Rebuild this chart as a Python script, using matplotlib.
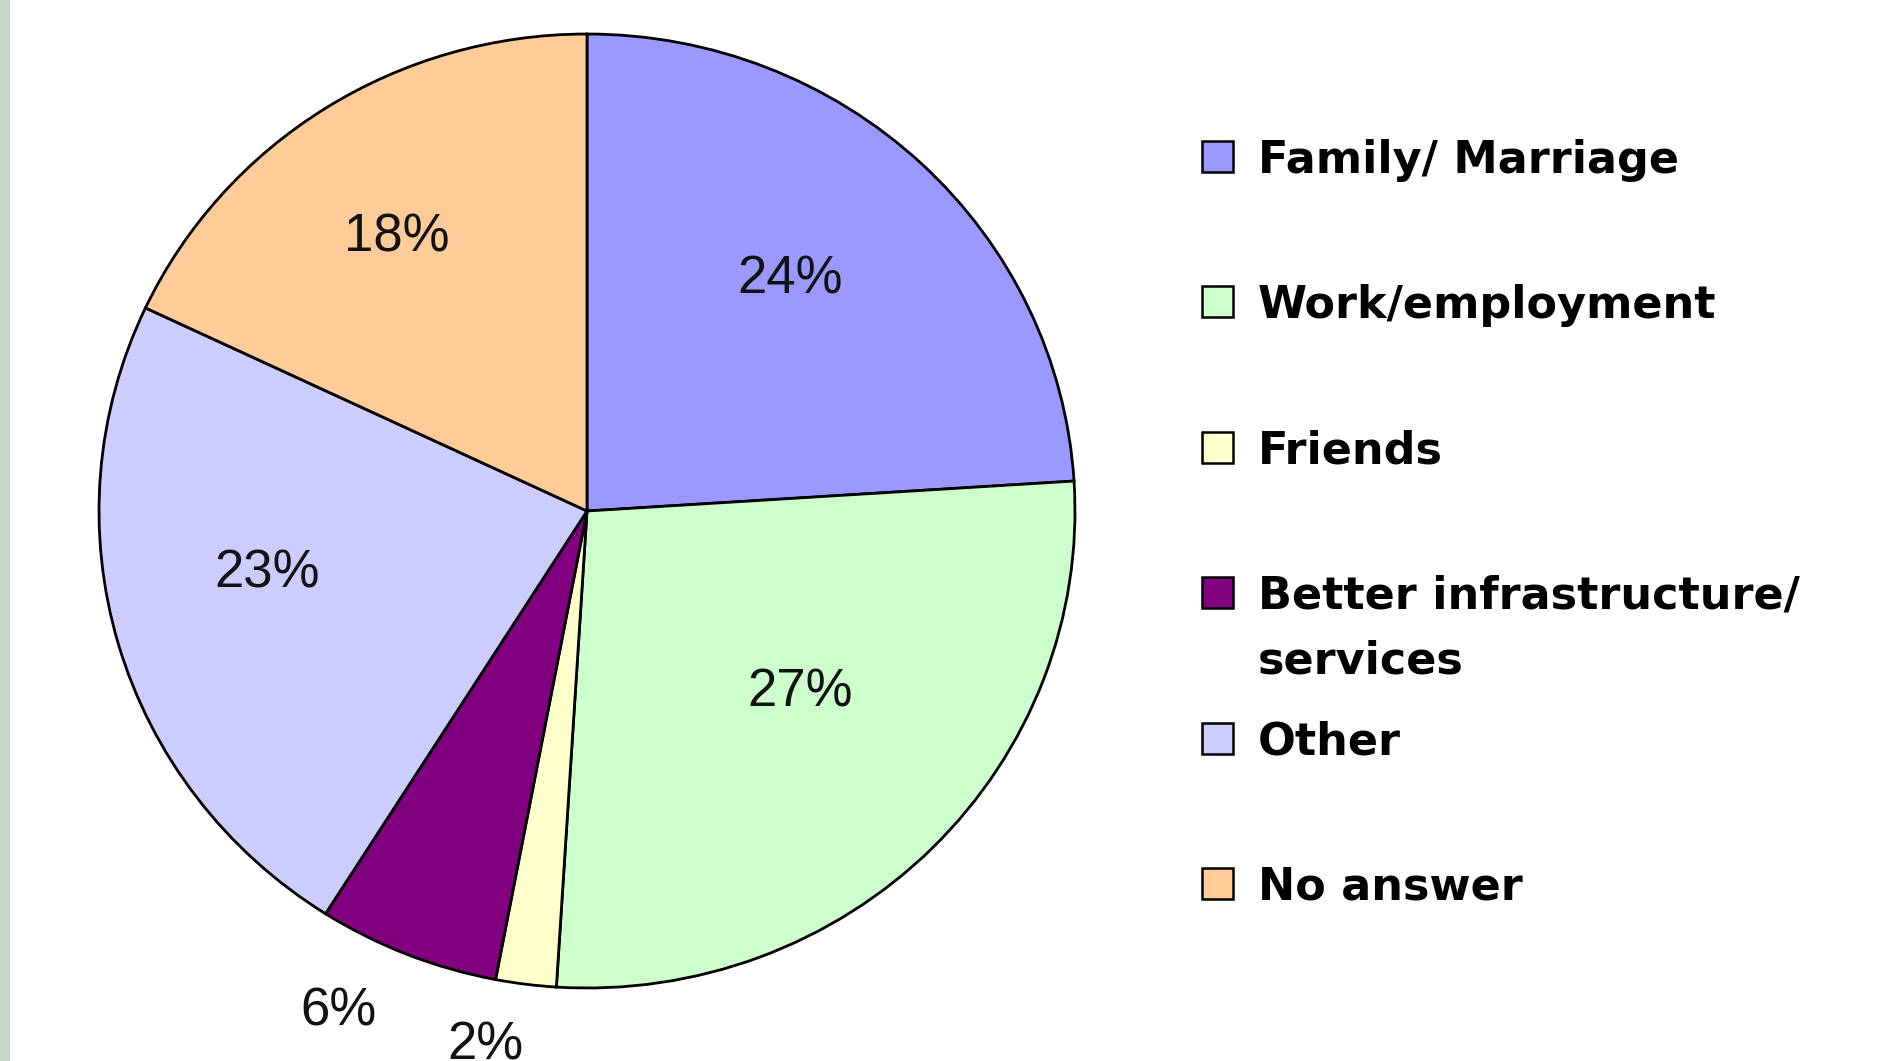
import matplotlib
matplotlib.use("Agg")
import matplotlib.pyplot as plt
from matplotlib.patches import Rectangle
import numpy as np

# ---- data ----
categories = ["Family/ Marriage", "Work/employment", "Friends",
              "Better infrastructure/\nservices", "Other", "No answer"]
values = [24, 27, 2, 6, 23, 18]
colors = ["#9999FF", "#CCFFCC", "#FFFFCC", "#800080", "#CCCCFF", "#FFCC99"]

# ---- layout / style ----
label_dist = [0.64, 0.58, 1.14, 1.166, 0.668, 0.694]
label_turn = [2.6, 4.0, -3.3, -4.3, -4.9, 1.8]   # degrees, label offset from wedge middle
W, H = 1881, 1061
fig = plt.figure(figsize=(W / 100, H / 100), dpi=100)
fig.patch.set_facecolor("white")

# left decorative strip
fig.add_artist(Rectangle((0, 0), 10 / W, 1, transform=fig.transFigure,
                         facecolor="#C6D7CB", edgecolor="none"))

cx, cy = 587, H - 511
rx, ry = 488, 477
m = 1.05
ax = fig.add_axes([(cx - rx * m) / W, (cy - ry * m) / H, 2 * rx * m / W, 2 * ry * m / H])
wedges, _ = ax.pie(values, colors=colors, startangle=90, counterclock=False,
                   radius=1, wedgeprops=dict(edgecolor="black", linewidth=2.0))
ax.set_aspect("auto")
ax.set_xlim(-m, m)
ax.set_ylim(-m, m)
ax.axis("off")

for w, v, d, t in zip(wedges, values, label_dist, label_turn):
    ang = np.deg2rad((w.theta1 + w.theta2) / 2 + t)
    ax.text(d * np.cos(ang), d * np.sin(ang), f"{v}%", ha="center", va="center",
            fontsize=38, family="Liberation Sans", color="#111111")

# legend (manual, Excel-like)
step = 145.4
base0 = 173
line_step = 64
for i, (lab, col) in enumerate(zip(categories, colors)):
    yb = base0 + i * step
    fig.add_artist(Rectangle((1202 / W, (H - (yb - 1)) / H), 31 / W, 31 / H,
                             transform=fig.transFigure, facecolor=col,
                             edgecolor="black", linewidth=1.8))
    y_last = yb + line_step * lab.count("\n")
    fig.text(1258 / W, (H - y_last) / H, lab, ha="left", va="baseline",
             fontsize=32, family="DejaVu Sans", weight="bold", color="black",
             linespacing=1.63)

fig.savefig("out.png", dpi=100, facecolor="white")
